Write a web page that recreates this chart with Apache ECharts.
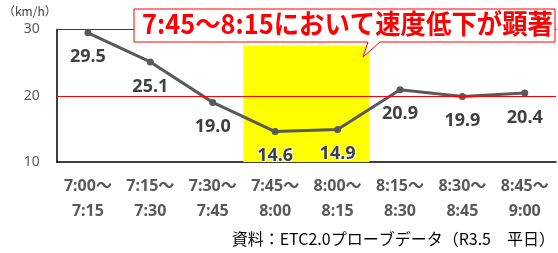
<!DOCTYPE html>
<html>
<head>
<meta charset="utf-8" />
<title>速度推移</title>
<script src="https://cdn.jsdelivr.net/npm/echarts@6/dist/echarts.min.js"></script>
<style>
  html, body { margin: 0; padding: 0; background: #fff; }
  #container { width: 558px; height: 253px; }
</style>
</head>
<body>
<div id="container"></div>
<script type="text/javascript">
    // 時間帯
    var timeSlots = ['7:00～\n7:15', '7:15～\n7:30', '7:30～\n7:45', '7:45～\n8:00',
                     '8:00～\n8:15', '8:15～\n8:30', '8:30～\n8:45', '8:45～\n9:00'];
    // 平均速度 (km/h)
    var speeds = [29.5, 25.1, 19.0, 14.6, 14.9, 20.9, 19.9, 20.4];
    // 速度低下の時間帯 (黄色の帯)
    var dropBand = [null, null, null, 27.6, 27.6, null, null, null];
    var refSpeed = 20;
    var yTicks = { min: 10, max: 30, interval: 10 };
    var calloutText = '7:45～8:15において速度低下が顕著';
    var sourceText = '資料：ETC2.0プローブデータ（R3.5　平日）';

    var font = '"Noto Sans", "Noto Sans CJK JP", sans-serif';
    var myChart = echarts.init(document.getElementById('container'));

    var option = {
        animation: false,
        grid: { left: 55, right: 2, top: 29.5, bottom: 91 },
        xAxis: [
            {
                type: 'category',
                data: timeSlots,
                boundaryGap: true,
                axisTick: { show: false },
                axisLine: { lineStyle: { color: '#000', width: 1.5 } },
                axisLabel: {
                    margin: 12,
                    lineHeight: 25,
                    fontSize: 16,
                    fontWeight: 'bold',
                    color: '#595959',
                    fontFamily: font,
                    interval: 0
                }
            },
            {
                type: 'category',
                data: timeSlots,
                position: 'top',
                axisTick: { show: false },
                axisLabel: { show: false },
                axisLine: { lineStyle: { color: '#404040', width: 1 } }
            }
        ],
        yAxis: {
            type: 'value',
            min: yTicks.min,
            max: yTicks.max,
            interval: yTicks.interval,
            name: '（km/h）',
            nameLocation: 'end',
            nameGap: 12,
            nameTextStyle: { align: 'right', fontSize: 12, color: '#404040', fontFamily: '"Noto Sans CJK JP", sans-serif' },
            axisLine: { show: true, lineStyle: { color: '#000', width: 1.5 } },
            axisTick: { show: false },
            splitLine: { show: false },
            axisLabel: { margin: 17, fontSize: 14, color: '#595959', fontFamily: font }
        },
        series: [
            {
                name: '速度低下',
                type: 'bar',
                data: dropBand,
                barWidth: '102%',
                barGap: '-100%',
                silent: true,
                z: 1,
                itemStyle: { color: '#ffff00' }
            },
            {
                name: '平均速度',
                type: 'line',
                data: speeds,
                z: 3,
                symbol: 'circle',
                symbolSize: 7,
                lineStyle: { color: '#595959', width: 3 },
                itemStyle: { color: '#595959' },
                label: {
                    show: true,
                    position: 'bottom',
                    distance: 12,
                    fontSize: 18,
                    fontWeight: 'bold',
                    color: '#404040',
                    fontFamily: font,
                    textBorderColor: '#fff',
                    textBorderWidth: 2,
                    formatter: function (p) { return p.value.toFixed(1); }
                },
                markLine: {
                    silent: true,
                    symbol: 'none',
                    label: { show: false },
                    lineStyle: { color: '#ff0000', width: 1, type: 'solid' },
                    data: [{ yAxis: refSpeed }]
                }
            }
        ],
        graphic: [
            {
                type: 'polygon',
                z: 10,
                shape: {
                    points: [[134, 9], [555, 9], [555, 42], [380, 42], [363, 57], [368, 42], [134, 42]]
                },
                style: { fill: '#fff', stroke: '#ff0000', lineWidth: 1 }
            },
            {
                type: 'text',
                z: 11,
                x: 142,
                y: 10,
                scaleX: 0.94,
                style: {
                    text: calloutText,
                    fill: '#ff0000',
                    font: 'bold 27px "Noto Sans CJK JP", sans-serif'
                }
            },
            {
                type: 'text',
                z: 11,
                right: 3,
                top: 231,
                style: {
                    text: sourceText,
                    fill: '#000',
                    font: '16px "Noto Sans CJK JP", sans-serif'
                }
            }
        ]
    };
    myChart.setOption(option);
</script>
</body>
</html>
